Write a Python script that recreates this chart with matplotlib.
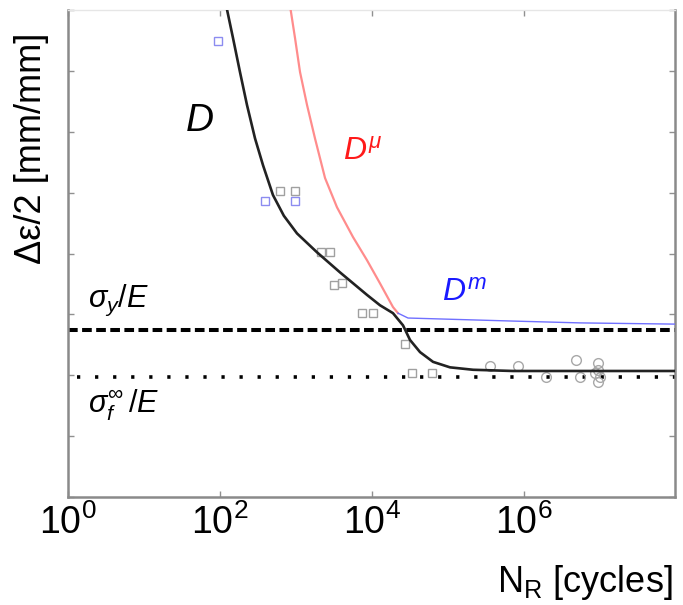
import numpy as np
import matplotlib
matplotlib.use("Agg")
import matplotlib.pyplot as plt

plt.rcParams['font.family'] = ['Liberation Sans', 'DejaVu Sans']
plt.rcParams['mathtext.fontset'] = 'custom'
plt.rcParams['mathtext.rm'] = 'Liberation Sans'
plt.rcParams['mathtext.it'] = 'Liberation Sans:italic'
plt.rcParams['mathtext.bf'] = 'Liberation Sans:bold'

# curva D (log10 N, deformacao em unidades arbitrarias)
d_logn = [2.08, 2.171, 2.263, 2.355, 2.461, 2.566, 2.697, 2.84, 3.013, 3.276, 3.579, 3.934,
          4.105, 4.276, 4.408, 4.50, 4.632, 4.803, 5.026, 5.33, 5.855, 7.99]
d_eps = [8.08, 7.54, 6.98, 6.44, 5.89, 5.45, 4.96, 4.62, 4.33, 4.02, 3.69, 3.32,
         3.15, 3.02, 2.82, 2.58, 2.38, 2.22, 2.13, 2.09, 2.07, 2.07]

# curva D mu
dmu_logn = [2.92, 2.987, 3.053, 3.145, 3.25, 3.382, 3.539, 3.75, 3.934, 4.105, 4.276, 4.342]
dmu_eps = [8.08, 7.54, 6.98, 6.44, 5.89, 5.24, 4.76, 4.27, 3.89, 3.51, 3.12, 3.02]

# curva D m
dm_logn = [4.342, 4.474, 5.855, 6.74, 7.99]
dm_eps = [3.02, 2.94, 2.89, 2.86, 2.84]

sigma_y = 2.75
sigma_f = 1.97

# ensaios
azul_logn = [1.97, 2.59, 2.99]
azul_eps = [7.49, 4.87, 4.87]
cinza_logn = [2.79, 2.99, 3.33, 3.45, 3.50, 3.61, 3.87, 4.01, 4.43, 4.53, 4.79]
cinza_eps = [5.02, 5.02, 4.03, 4.03, 3.49, 3.52, 3.02, 3.02, 2.52, 2.03, 2.03]
circ_logn = [5.55, 5.92, 6.29, 6.68, 6.74, 6.97, 6.97, 7.00, 6.97, 6.93]
circ_eps = [2.16, 2.16, 1.97, 2.25, 1.97, 2.20, 2.08, 1.97, 1.89, 2.03]

xticks = [1, 1e2, 1e4, 1e6]

fig = plt.figure(figsize=(6.83, 6.05), dpi=100)
ax = fig.add_axes([68 / 683, 1 - 497 / 605, 607 / 683, 487 / 605])

ax.axhline(sigma_y, color='black', lw=2.9, linestyle=(0, (2.4, 1.1)), zorder=2)
ax.plot([1.3, 9.7e7], [sigma_f, sigma_f], color='black', lw=2.6, linestyle=(0, (0.9, 4.1)), zorder=2, clip_on=False)

ax.plot(10 ** np.array(azul_logn), azul_eps, 's', ms=6, mfc='none', mec='#8c8cf0', mew=1.0, zorder=3)
ax.plot(10 ** np.array(cinza_logn), cinza_eps, 's', ms=6, mfc='none', mec='#a0a0a0', mew=1.0, zorder=3)
ax.plot(10 ** np.array(circ_logn), circ_eps, 'o', ms=7, mfc='none', mec='#a8a8a8', mew=1.0, zorder=3)

ax.plot(10 ** np.array(dmu_logn), dmu_eps, color='#ff8c8c', lw=1.6, zorder=4)
ax.plot(10 ** np.array(dm_logn), dm_eps, color='#7070ff', lw=1.0, zorder=4)
ax.plot(10 ** np.array(d_logn), d_eps, color='#222222', lw=1.9, zorder=5)

ax.set_xscale('log')
ax.set_xlim(1, 9.7e7)
ax.set_ylim(0, 8)
ax.set_xticks(xticks)
ax.xaxis.set_minor_locator(matplotlib.ticker.NullLocator())
ax.set_yticks(np.arange(0, 9))
ax.set_yticklabels([])
ax.tick_params(direction='in', length=4, width=1, color='#909090', top=True, right=True,
               labelsize=27, pad=5)

for lado in ['left', 'bottom', 'right']:
    ax.spines[lado].set_color('#8a8a8a')
    ax.spines[lado].set_linewidth(1.8)
ax.spines['top'].set_color('#e6e6e6')
ax.spines['top'].set_linewidth(1.0)

# rotulos das curvas
fig.text(200 / 683, 1 - 121 / 605, 'D', style='italic', fontsize=28, ha='center', va='center')
fig.text(343 / 683, 1 - 152 / 605, r'$D^{\mu}$', color='#ff1a1a', fontsize=23, ha='left', va='center')
fig.text(442 / 683, 1 - 293 / 605, r'$D^{m}$', color='#1a1aff', fontsize=23, ha='left', va='center')
fig.text(88 / 683, 1 - 300 / 605, r'$\sigma_y/E$', fontsize=22, ha='left', va='center')
fig.text(88 / 683, 1 - 405 / 605, r'$\sigma_f^{\infty}\,/E$', fontsize=22, ha='left', va='center')

fig.text(32 / 683, 1 - 148 / 605, 'Δε/2 [mm/mm]', fontsize=26, rotation=90, ha='center', va='center')
fig.text(673 / 683, 1 - 582 / 605, r'N$_\mathregular{R}$ [cycles]', fontsize=26, ha='right', va='center')

fig.savefig('out.png', dpi=100)
